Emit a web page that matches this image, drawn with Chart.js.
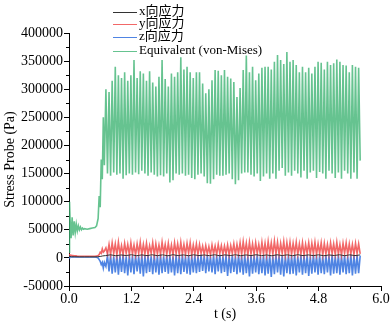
<!DOCTYPE html>
<html>
<head>
<meta charset="utf-8">
<script src="https://cdn.jsdelivr.net/npm/chart.js@4.4.1/dist/chart.umd.min.js"></script>
<style>
  html, body { margin: 0; padding: 0; background: #fff; }
  #wrap { width: 392px; height: 327px; position: relative; }
</style>
</head>
<body>
<div id="wrap"><canvas id="chart"></canvas></div>
<script>
// Stress probe readings, values in kPa (scaled to Pa below)
const seriesLabels = ['x向应力', 'y向应力', 'z向应力', 'Equivalent (von-Mises)'];
const seriesColors = ['#333333', 'rgba(240,78,78,0.85)', 'rgba(48,110,222,0.85)', 'rgba(64,180,116,0.8)'];
const seriesWidths = [1, 1.6, 1.6, 1.6];

// start-up part, before the oscillation settles in
const preTimes = [0, 0.01, 0.02, 0.04, 0.06, 0.08, 0.10, 0.12, 0.14, 0.16, 0.18, 0.20, 0.22, 0.24,
  0.26, 0.28, 0.30, 0.35, 0.40, 0.45, 0.50, 0.53, 0.56, 0.58, 0.60, 0.62, 0.64, 0.66];
const eqPre = [10, 100, 70, 35, 72, 40, 65, 45, 60, 48, 57, 50, 55, 50, 53, 51, 52, 51, 52, 53, 54, 57,
  70, 110, 90, 175, 140, 250];
const yPre = [7, 6, 5, 4.5, 4, 4, 3.5, 3.5, 3.5, 3, 3, 3, 3, 3, 3, 3, 3, 3, 3, 3, 3, 3.5, 4, 6, 10, 8, 16, 10];
const zPre = [0, 1, 1.5, 1.5, 1.5, 1.5, 1.5, 1.5, 1.5, 1.5, 1.5, 1.5, 1.5, 1.5, 1.5, 1.5, 1.5, 1.5, 1.5,
  1.5, 1.5, 1, 0, -3, -6, -12, -8, -18];

// oscillating part: low points and high points
const troughTimes = [
  0.68, 0.74, 0.80, 0.86, 0.92, 0.98, 1.04, 1.10, 1.16, 1.22,
  1.28, 1.34, 1.40, 1.46, 1.52, 1.58, 1.64, 1.70, 1.76, 1.82,
  1.88, 1.94, 2.00, 2.06, 2.12, 2.18, 2.24, 2.30, 2.36, 2.42,
  2.48, 2.54, 2.60, 2.66, 2.72, 2.78, 2.84, 2.90, 2.96, 3.02,
  3.08, 3.14, 3.20, 3.26, 3.32, 3.38, 3.44, 3.50, 3.56, 3.62,
  3.68, 3.74, 3.80, 3.86, 3.92, 3.98, 4.04, 4.10, 4.16, 4.22,
  4.28, 4.34, 4.40, 4.46, 4.52, 4.58, 4.64, 4.70, 4.76, 4.82,
  4.88, 4.94, 5.00, 5.06, 5.12, 5.18, 5.24, 5.30, 5.36, 5.42,
  5.48, 5.54, 5.60];
const peakTimes = [
  0.71, 0.77, 0.83, 0.89, 0.95, 1.01, 1.07, 1.13, 1.19, 1.25,
  1.31, 1.37, 1.43, 1.49, 1.55, 1.61, 1.67, 1.73, 1.79, 1.85,
  1.91, 1.97, 2.03, 2.09, 2.15, 2.21, 2.27, 2.33, 2.39, 2.45,
  2.51, 2.57, 2.63, 2.69, 2.75, 2.81, 2.87, 2.93, 2.99, 3.05,
  3.11, 3.17, 3.23, 3.29, 3.35, 3.41, 3.47, 3.53, 3.59, 3.65,
  3.71, 3.77, 3.83, 3.89, 3.95, 4.01, 4.07, 4.13, 4.19, 4.25,
  4.31, 4.37, 4.43, 4.49, 4.55, 4.61, 4.67, 4.73, 4.79, 4.85,
  4.91, 4.97, 5.03, 5.09, 5.15, 5.21, 5.27, 5.33, 5.39, 5.45,
  5.51, 5.57];

const eqTroughs = [
  165, 150, 146, 152, 148, 150, 141, 147, 150, 148,
  152, 149, 155, 150, 146, 152, 148, 145, 147, 145,
  150, 134, 138, 150, 148, 150, 146, 148, 142, 140,
  148, 150, 145, 133, 132, 140, 148, 146, 146, 148,
  150, 140, 131, 138, 150, 152, 152, 148, 145, 150,
  137, 145, 150, 141, 150, 141, 155, 160, 146, 152,
  146, 155, 150, 143, 155, 141, 152, 155, 142, 153,
  150, 141, 155, 150, 142, 152, 141, 155, 150, 141,
  152, 141, 173];
const eqPeaks = [
  300, 295, 315, 340, 325, 320, 330, 315, 325, 352,
  320, 332, 328, 315, 332, 312, 305, 322, 352, 318,
  305, 328, 322, 330, 357, 335, 340, 330, 320, 330,
  330, 310, 293, 300, 316, 334, 333, 325, 334, 322,
  319, 313, 286, 302, 334, 360, 330, 340, 316, 328,
  338, 340, 340, 335, 349, 361, 352, 345, 366, 349,
  352, 343, 330, 340, 330, 338, 328, 340, 349, 347,
  335, 349, 343, 346, 353, 349, 343, 342, 330, 343,
  340, 338];

const yTroughs = [
  12, 7, 6, 8, 5, 7, 6, 8, 6, 7, 5, 8, 6, 7, 6, 8, 5, 7, 6, 8,
  6, 7, 5, 8, 6, 7, 6, 8, 5, 7, 6, 8, 6, 7, 5, 7, 6, 8, 6, 7,
  5, 8, 6, 7, 6, 8, 5, 7, 6, 8, 6, 7, 5, 8, 6, 7, 6, 8, 5, 7,
  6, 8, 6, 7, 5, 8, 6, 7, 6, 8, 5, 7, 6, 8, 6, 7, 5, 8, 6, 7, 6, 8, 7];
const yPeaks = [
  18, 24, 27, 25, 28, 22, 26, 24, 27, 23, 25, 28, 24, 26, 22, 27, 25, 23, 28, 24,
  26, 23, 27, 25, 28, 24, 26, 27, 23, 25,
  24, 21, 22, 20, 23, 21, 24, 22, 21, 23,
  22, 25, 24, 27, 29, 26, 28, 25, 27, 24,
  28, 26, 29, 27, 30, 28, 26, 29, 27, 28,
  26, 28, 25, 27, 24, 27, 26, 28, 25, 27,
  26, 24, 27, 25, 28, 24, 26, 27, 25, 24, 26, 25];

const zTops = [
  -8, 4, 5, 3, 5, 4, 6, 3, 5, 4, 5, 3, 6, 4, 5, 3, 5, 4, 6, 3,
  5, 4, 3, 5, 4, 6, 3, 5, 4, 5, 3, 6, 4, 5, 3, 5, 4, 6, 3, 5,
  4, 5, 3, 6, 4, 5, 3, 5, 4, 6, 3, 5, 4, 5, 3, 6, 4, 5, 3, 5,
  4, 6, 3, 5, 4, 5, 3, 6, 4, 5, 3, 5, 4, 6, 3, 5, 4, 5, 3, 6, 4, 5, 4];
const zBottoms = [
  -15, -24, -28, -26, -30, -25, -27, -31, -26, -29, -24, -28, -33, -27, -25, -29, -26, -30, -27, -25,
  -28, -26, -31, -27, -29, -25, -28, -30, -26, -27,
  -25, -23, -27, -24, -26, -29, -24, -27, -25, -32,
  -27, -25, -29, -26, -30, -27, -33, -28, -26, -29,
  -27, -31, -28, -34, -29, -26, -30, -33, -27, -29,
  -28, -31, -26, -30, -27, -32, -28, -26, -30, -27,
  -29, -26, -31, -28, -27, -30, -26, -29, -27, -31, -28, -27];

// x stress stays small, its own coarser sampling
const xTimes = [0, 0.05, 0.1, 0.2, 0.3, 0.4, 0.5, 0.55, 0.6, 0.65,
  0.7, 0.8, 0.9, 1.0, 1.1, 1.2, 1.3, 1.4, 1.5, 1.6,
  1.7, 1.8, 1.9, 2.0, 2.1, 2.2, 2.3, 2.4, 2.5, 2.6,
  2.7, 2.8, 2.9, 3.0, 3.1, 3.2, 3.3, 3.4, 3.5, 3.6,
  3.7, 3.8, 3.9, 4.0, 4.1, 4.2, 4.3, 4.4, 4.5, 4.6,
  4.7, 4.8, 4.9, 5.0, 5.1, 5.2, 5.3, 5.4, 5.5, 5.6];
const xStress = [2.5, 2, 2, 1.8, 1.8, 1.8, 1.8, 2, 2.5, 3.5,
  4, 5.5, 3.8, 5.2, 4.2, 5.6, 3.9, 5.3, 4.1, 5.5,
  4, 5.4, 3.8, 5.6, 4.2, 5.3, 3.9, 5.5, 4.1, 5.2,
  4, 5.6, 3.8, 5.4, 4.2, 5.5, 3.9, 5.3, 4.1, 5.6,
  4, 5.2, 3.8, 5.5, 4.2, 5.4, 3.9, 5.6, 4.1, 5.3,
  4, 5.5, 3.8, 5.2, 4.2, 5.6, 3.9, 5.4, 4.1, 5.3];

const KPA = 1000;
const SERIF = "'Liberation Serif', 'Times New Roman', 'Noto Sans CJK SC', serif";

function buildSeries(pre, atTroughs, atPeaks) {
  const pts = [];
  preTimes.forEach((t, i) => pts.push({ x: t, y: pre[i] * KPA }));
  troughTimes.forEach((t, i) => pts.push({ x: t, y: atTroughs[i] * KPA }));
  peakTimes.forEach((t, i) => pts.push({ x: t, y: atPeaks[i] * KPA }));
  return pts.sort((a, b) => a.x - b.x);
}

const seriesData = [
  xTimes.map((t, i) => ({ x: t, y: xStress[i] * KPA })),
  buildSeries(yPre, yTroughs, yPeaks),
  buildSeries(zPre, zTops, zBottoms),
  buildSeries(eqPre, eqTroughs, eqPeaks)
];

// small ticks halfway between the labelled ones
const minorTicks = {
  id: 'minorTicks',
  afterDraw(chart) {
    const { ctx, chartArea, scales } = chart;
    ctx.save();
    ctx.strokeStyle = '#000';
    ctx.lineWidth = 1;
    ctx.beginPath();
    for (let v = -25000; v < 400000; v += 50000) {
      const y = Math.round(scales.y.getPixelForValue(v)) + 0.5;
      ctx.moveTo(chartArea.left - 3, y);
      ctx.lineTo(chartArea.left, y);
    }
    for (let v = 0.6; v < 6; v += 1.2) {
      const x = Math.round(scales.x.getPixelForValue(v)) + 0.5;
      ctx.moveTo(x, chartArea.bottom);
      ctx.lineTo(x, chartArea.bottom + 3);
    }
    ctx.stroke();
    ctx.restore();
  }
};

// legend drawn inside the plot, top left
const lineLegend = {
  id: 'lineLegend',
  afterDraw(chart) {
    const ctx = chart.ctx;
    const rows = [12, 24, 37, 51];
    ctx.save();
    ctx.font = '13px ' + SERIF;
    ctx.textBaseline = 'middle';
    ctx.fillStyle = '#000';
    chart.data.datasets.forEach((ds, i) => {
      const y = rows[i] + 0.5;
      ctx.strokeStyle = ds.borderColor;
      ctx.lineWidth = 1;
      ctx.beginPath();
      ctx.moveTo(113, y);
      ctx.lineTo(137, y);
      ctx.stroke();
      ctx.fillText(ds.label, 139, rows[i]);
    });
    ctx.restore();
  }
};

const ctx = document.getElementById('chart').getContext('2d');
new Chart(ctx, {
  type: 'line',
  data: {
    datasets: seriesData.map((pts, i) => ({
      label: seriesLabels[i],
      data: pts,
      borderColor: seriesColors[i],
      borderWidth: seriesWidths[i],
      pointRadius: 0,
      tension: 0,
      fill: false
    }))
  },
  options: {
    responsive: true,
    maintainAspectRatio: false,
    animation: false,
    layout: { padding: { top: 33, right: 11, left: 0, bottom: 0 } },
    plugins: {
      legend: { display: false },
      tooltip: { enabled: false }
    },
    scales: {
      x: {
        type: 'linear',
        min: 0,
        max: 6,
        border: { display: true, color: '#000', width: 1 },
        grid: { drawOnChartArea: false, drawTicks: true, tickLength: 5, tickColor: '#000' },
        ticks: {
          stepSize: 1.2,
          autoSkip: false,
          maxRotation: 0,
          padding: 0,
          color: '#000',
          font: { family: SERIF, size: 14 },
          callback: v => v.toFixed(1)
        },
        title: {
          display: true,
          text: 't (s)',
          color: '#000',
          font: { family: SERIF, size: 14 },
          padding: { top: 0, bottom: 4 }
        },
        afterFit(scale) { scale.height = 41; }
      },
      y: {
        min: -50000,
        max: 400000,
        border: { display: true, color: '#000', width: 1 },
        grid: { drawOnChartArea: false, drawTicks: true, tickLength: 5, tickColor: '#000' },
        ticks: {
          stepSize: 50000,
          padding: 1,
          color: '#000',
          font: { family: SERIF, size: 14 },
          callback: v => String(v)
        },
        title: {
          display: true,
          text: 'Stress Probe (Pa)',
          color: '#000',
          font: { family: SERIF, size: 14 },
          padding: { top: 2, bottom: 0 }
        },
        afterFit(scale) { scale.width = 69; }
      }
    }
  },
  plugins: [minorTicks, lineLegend]
});
</script>
</body>
</html>
